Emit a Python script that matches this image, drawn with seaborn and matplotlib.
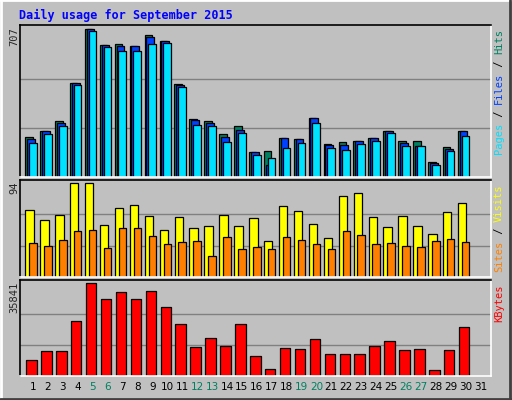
import numpy as np
import pandas as pd
import matplotlib
matplotlib.use("Agg")
import matplotlib.pyplot as plt
from matplotlib.lines import Line2D
import seaborn as sns

# --------------------------
# Data (days 1..30, day 31 has no traffic)
# --------------------------
days = list(range(1, 31))
day_labels = [str(d) for d in range(1, 32)]
weekend_days = [5, 6, 12, 13, 19, 20, 26, 27]

hits = [194, 222, 266, 450, 707, 632, 637, 627, 680, 651, 445, 280, 267, 205, 242,
        122, 126, 186, 181, 285, 160, 170, 174, 189, 222, 174, 174, 74, 146, 222]
files = [184, 222, 261, 448, 707, 632, 626, 627, 669, 651, 440, 275, 261, 194, 227,
         122, 59, 186, 181, 285, 155, 155, 174, 189, 222, 165, 150, 69, 136, 218]
pages = [165, 208, 246, 443, 698, 621, 606, 603, 635, 640, 429, 251, 246, 170, 213,
         107, 93, 141, 165, 261, 141, 131, 160, 174, 213, 150, 150, 59, 126, 198]
visits = [67, 57, 62, 94, 94, 52, 69, 72, 61, 47, 60, 49, 51, 62, 51,
          59, 36, 71, 66, 53, 39, 81, 84, 60, 50, 61, 51, 43, 65, 74]
sites = [34, 31, 37, 46, 47, 29, 49, 49, 41, 33, 35, 36, 21, 40, 28,
         30, 28, 40, 37, 33, 28, 46, 42, 33, 34, 31, 30, 36, 38, 35]
kbytes = [6017, 9548, 9548, 21320, 35841, 29560, 32310, 29560, 32700, 26420, 20140,
          11120, 14650, 11510, 20140, 7590, 2880, 10730, 10330, 14260, 8370, 8370,
          8370, 11510, 13470, 9940, 10330, 2490, 9940, 18970]

BG = "#C0C0C0"
C_HITS, C_FILES, C_PAGES = "#008060", "#0040FF", "#00E0FF"
C_VISITS, C_SITES, C_KB = "#FFFF00", "#FF8000", "#FF0000"

W, H = 512, 400
fig = plt.figure(figsize=(W / 100, H / 100), dpi=100, facecolor=BG)
sns.set_style("white")
plt.rcParams['font.family'] = ['DejaVu Sans']

# outer bevel
for xs, ys, c in [([0, 1], [0.999, 0.999], "white"), ([0.001, 0.001], [0, 1], "white"),
                  ([0, 1], [0.003, 0.003], "#404040"), ([0.997, 0.997], [0, 1], "#404040")]:
    fig.add_artist(Line2D(xs, ys, color=c, lw=2, transform=fig.transFigure))

XL = (0.129, 31.70)


def make_ax(top, bottom):
    ax = fig.add_axes([20 / W, (H - bottom) / H, 471 / W, (bottom - top) / H])
    ax.set_facecolor(BG)
    for s in ["top", "left"]:
        ax.spines[s].set_color("black")
    for s in ["bottom", "right"]:
        ax.spines[s].set_color("white")
    for s in ax.spines.values():
        s.set_linewidth(1.2)
    return ax


def bars(ax, values, offset, width, color):
    df = pd.DataFrame({"x": np.array(days) + offset, "y": values})
    sns.barplot(data=df, x="x", y="y", native_scale=True, orient="x", width=width,
                color=color, saturation=1, edgecolor="black", linewidth=0.9, ax=ax)


def finish(ax, ymax, max_label, top_px, pieces):
    ax.set_xlim(*XL)
    ax.set_ylim(0, ymax * 1.03)
    ax.set_yticks([ymax / 3, 2 * ymax / 3])
    ax.yaxis.grid(True, color="#808080", lw=1)
    ax.set_axisbelow(True)
    ax.set_yticklabels([])
    ax.tick_params(length=0)
    ax.set_xlabel("")
    ax.set_ylabel("")
    fig.text(9 / W, (H - top_px - 2) / H, max_label, rotation=90, ha="left", va="top",
             family="DejaVu Sans Mono", fontsize=7.5)
    # right-hand coloured legend text, reading bottom to top
    char_px = 0.602 * 7.5 * 100 / 72
    total = sum(len(t) for t, _ in pieces)
    y = H - top_px - 4 - total * char_px
    for t, c in pieces:
        fig.text(494 / W, y / H, t, rotation=90, ha="left", va="bottom",
                 family="DejaVu Sans Mono", fontsize=7.5, color=c)
        y += len(t) * char_px


ax1 = make_ax(25, 177)
bars(ax1, hits, -0.27, 0.5, C_HITS)
bars(ax1, files, -0.14, 0.52, C_FILES)
bars(ax1, pages, -0.01, 0.52, C_PAGES)
ax1.set_xticks([])
finish(ax1, 707, "707", 25, [("Pages", C_PAGES), (" / ", "black"), ("Files", C_FILES),
                             (" / ", "black"), ("Hits", C_HITS)])

ax2 = make_ax(180, 277)
bars(ax2, visits, -0.23, 0.56, C_VISITS)
bars(ax2, sites, 0.0, 0.5, C_SITES)
ax2.set_xticks([])
finish(ax2, 94, "94", 180, [("Sites", C_SITES), (" / ", "black"), ("Visits", C_VISITS)])

ax3 = make_ax(280, 376)
bars(ax3, kbytes, -0.1, 0.7, C_KB)
finish(ax3, 35841, "35841", 280, [("KBytes", C_KB)])
ax3.set_xticks(range(1, 32))
ax3.set_xticklabels(day_labels, fontsize=7.5)
ax3.tick_params(axis="x", pad=4)
for lbl, d in zip(ax3.get_xticklabels(), range(1, 32)):
    lbl.set_color("#008060" if d in weekend_days else "black")

fig.text(19 / W, (H - 15) / H, "Daily usage for September 2015", color="#0000FF",
         family="DejaVu Sans Mono", fontsize=8.5, fontweight="bold", va="center")

fig.savefig("out.png", dpi=100, facecolor=BG)
